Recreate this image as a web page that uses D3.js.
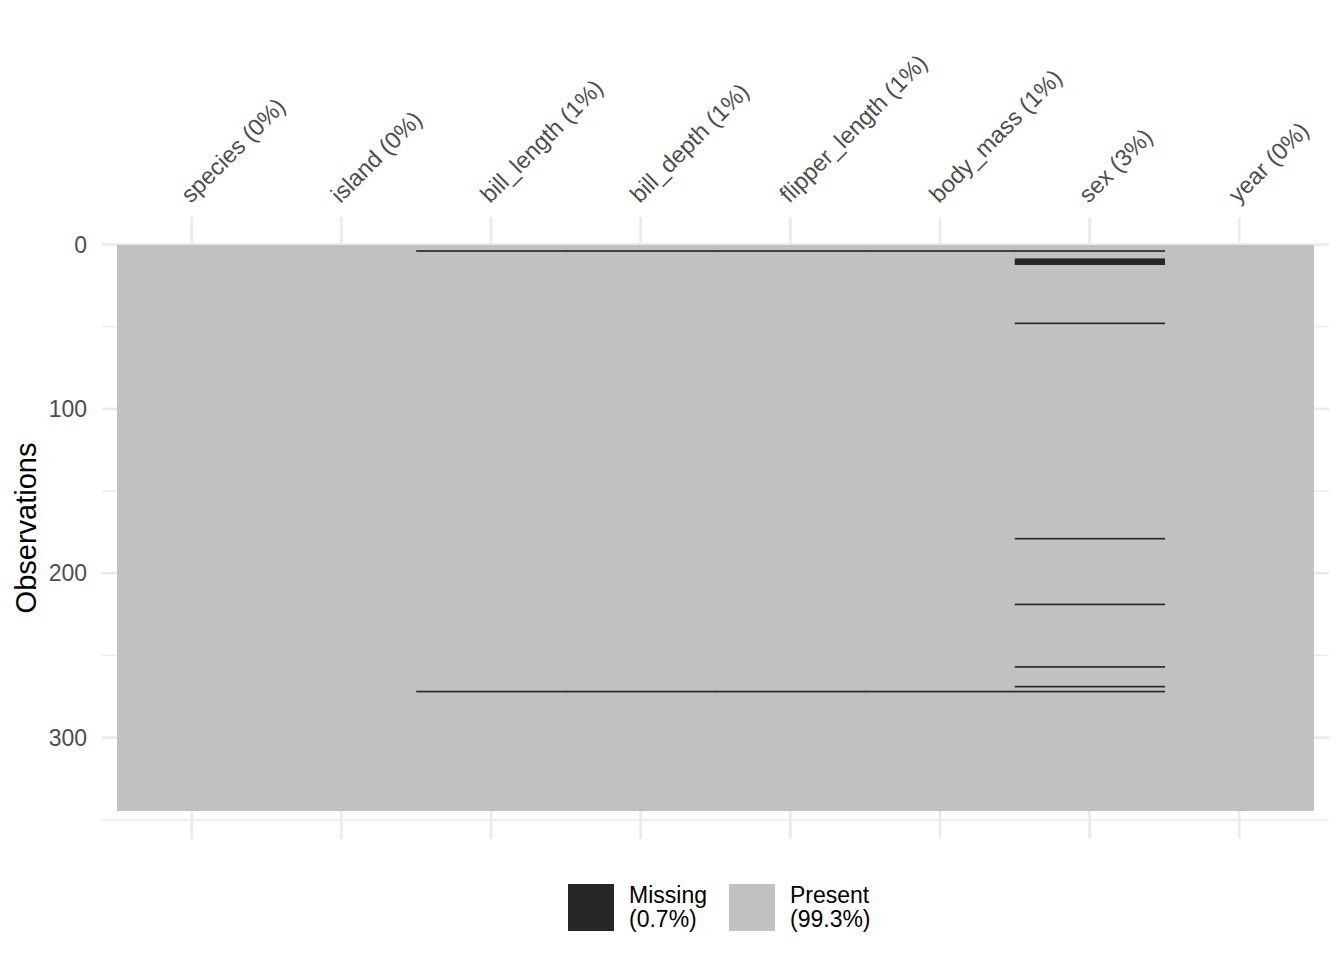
<!DOCTYPE html>
<html>
<head>
<meta charset="utf-8">
<script src="https://cdn.jsdelivr.net/npm/d3@7"></script>
<style>
  html, body { margin: 0; padding: 0; background: #ffffff; }
  svg { display: block; font-family: "Liberation Sans", Arial, Helvetica, sans-serif; }
</style>
</head>
<body>
<svg id="chart" width="1344" height="960"></svg>
<script>
// ---- data (penguins, vis_miss) ----
const variables = ["species", "island", "bill_length", "bill_depth", "flipper_length", "body_mass", "sex", "year"];
const nObs = 344;
const missSpecies = [];
const missIsland = [];
const missBillLength = [4, 272];
const missBillDepth = [4, 272];
const missFlipperLength = [4, 272];
const missBodyMass = [4, 272];
const missSex = [4, 9, 10, 11, 12, 48, 179, 219, 257, 269, 272];
const missYear = [];
const missingByVar = [missSpecies, missIsland, missBillLength, missBillDepth, missFlipperLength, missBodyMass, missSex, missYear];
const yMajorTicks = [0, 100, 200, 300];
const yMinorTicks = [50, 150, 250, 350];
const legendKeys = ["Missing", "Present"];

// ---- layout ----
const svg = d3.select("#chart");
const panel = { left: 102, right: 1329, top: 217, bottom: 839 };
const colMissing = "#262626", colPresent = "#c1c1c1", gridCol = "#ebebeb";

const x = d3.scaleLinear().domain([0.4, variables.length + 0.6]).range([panel.left, panel.right]);
const y = d3.scaleLinear().domain([0.5 - 0.05 * nObs, nObs + 0.5 + 0.05 * nObs]).range([panel.top, panel.bottom]);

const g = svg.append("g");

// grid
g.selectAll(".minor").data(yMinorTicks).enter().append("line")
  .attr("x1", panel.left).attr("x2", panel.right)
  .attr("y1", d => y(d)).attr("y2", d => y(d))
  .attr("stroke", gridCol).attr("stroke-width", 1.4);
g.selectAll(".major").data(yMajorTicks).enter().append("line")
  .attr("x1", panel.left).attr("x2", panel.right)
  .attr("y1", d => y(d)).attr("y2", d => y(d))
  .attr("stroke", gridCol).attr("stroke-width", 2.8);
g.selectAll(".vmajor").data(variables).enter().append("line")
  .attr("x1", (d, i) => x(i + 1)).attr("x2", (d, i) => x(i + 1))
  .attr("y1", panel.top).attr("y2", panel.bottom)
  .attr("stroke", gridCol).attr("stroke-width", 2.8);

// tiles: present (crisp edges so neighbouring columns join without seams)
g.selectAll(".present").data(variables).enter().append("rect")
  .attr("x", (d, i) => x(i + 0.5))
  .attr("width", (d, i) => x(i + 1.5) - x(i + 0.5))
  .attr("y", y(0.5))
  .attr("height", y(nObs + 0.5) - y(0.5))
  .attr("fill", colPresent)
  .attr("shape-rendering", "crispEdges");

// tiles: missing — consecutive missing rows merged into runs
const missRuns = [];
missingByVar.forEach((rows, i) => {
  const sorted = rows.slice().sort((a, b) => a - b);
  let start = null, prev = null;
  sorted.forEach(r => {
    if (start === null) { start = r; prev = r; }
    else if (r === prev + 1) { prev = r; }
    else { missRuns.push({ col: i + 1, from: start, to: prev }); start = r; prev = r; }
  });
  if (start !== null) missRuns.push({ col: i + 1, from: start, to: prev });
});
const lastCol = variables.length;
g.selectAll(".missing").data(missRuns).enter().append("rect")
  .attr("x", d => x(d.col - 0.5))
  .attr("width", d => x(d.col + 0.5) - x(d.col - 0.5) + (d.col < lastCol ? 0.6 : 0))
  .attr("y", d => y(d.from - 0.5))
  .attr("height", d => y(d.to + 0.5) - y(d.from - 0.5))
  .attr("fill", colMissing);

// y tick labels
g.selectAll(".ylab").data(yMajorTicks).enter().append("text")
  .attr("x", 87).attr("y", d => y(d))
  .attr("dy", "0.35em")
  .attr("text-anchor", "end")
  .attr("font-size", 23).attr("fill", "#4d4d4d")
  .text(d => d);

// y title
svg.append("text")
  .attr("transform", `translate(36, ${(panel.top + panel.bottom) / 2}) rotate(-90)`)
  .attr("text-anchor", "middle")
  .attr("font-size", 29).attr("fill", "#000")
  .text("Observations");

// top x labels
const pct = missingByVar.map(r => Math.round(100 * r.length / nObs) + "%");
g.selectAll(".xlab").data(variables).enter().append("text")
  .attr("transform", (d, i) => `translate(${x(i + 1) - 1}, 204) rotate(-45)`)
  .attr("text-anchor", "start")
  .attr("font-size", 23.5).attr("fill", "#4d4d4d")
  .text((d, i) => `${d} (${pct[i]})`);

// legend
const totalMiss = missingByVar.reduce((s, r) => s + r.length, 0);
const totalCells = nObs * variables.length;
const missPct = (100 * totalMiss / totalCells).toFixed(1);
const presPct = (100 - 100 * totalMiss / totalCells).toFixed(1);
const legendPcts = [missPct, presPct];
const legendColors = [colMissing, colPresent];
const legendX = [568, 729];
const lg = svg.append("g");
legendKeys.forEach((k, i) => {
  lg.append("rect").attr("x", legendX[i]).attr("y", 884).attr("width", 46).attr("height", 47)
    .attr("fill", legendColors[i]);
  const t = lg.append("text").attr("font-size", 23).attr("fill", "#000");
  t.append("tspan").attr("x", legendX[i] + 61).attr("y", 903).text(k);
  t.append("tspan").attr("x", legendX[i] + 61).attr("y", 927).text(`(${legendPcts[i]}%)`);
});
</script>
</body>
</html>
